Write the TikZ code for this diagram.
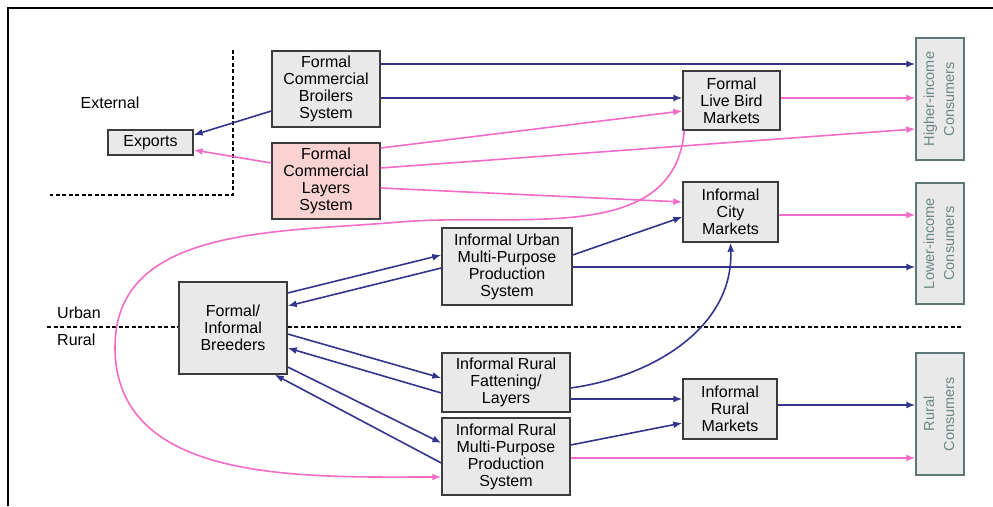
\documentclass[tikz,border=0pt]{standalone}
\usepackage{fontspec}
\setmainfont{Liberation Sans}
\usetikzlibrary{arrows.meta}

\definecolor{navy}{HTML}{34348C}
\definecolor{pinkln}{HTML}{F06CC6}
\definecolor{boxfill}{HTML}{E9E9E9}
\definecolor{boxedge}{HTML}{3C3C3C}
\definecolor{layerfill}{HTML}{FAD2D2}
\definecolor{consedge}{HTML}{5E7676}
\definecolor{constext}{HTML}{6E8686}

\begin{document}
\begin{tikzpicture}[x=1pt,y=1pt,
  box/.style={draw=boxedge, fill=boxfill, line width=1.4pt, align=center,
    inner sep=0pt, font=\fontsize{16}{17}\selectfont},
  cons/.style={draw=consedge, fill=boxfill, line width=1.4pt, inner sep=0pt,
    text=constext, font=\fontsize{14.5}{20}\selectfont,
    minimum width=48pt, minimum height=122pt},
  lbl/.style={inner sep=0pt, font=\fontsize{16}{17}\selectfont},
  nv/.style={draw=navy, line width=1.6pt, -{Latex[length=9pt,width=7pt]}},
  pk/.style={draw=pinkln, line width=1.6pt, -{Latex[length=9pt,width=7pt]}},
  sep/.style={dash pattern=on 4pt off 2.5pt, line width=1.3pt}]

\useasboundingbox (0,0) rectangle (993,506);

% outer frame (top and left edges)
\draw[line width=1.8pt] (8,0) -- (8,498) -- (993,498);

% External / domestic and urban / rural boundaries
\draw[sep] (233,456) -- (233,311) -- (50,311);
\draw[sep] (47,179) -- (963,179);

\node[lbl] (ext) at (110,403) {External};
\node[lbl, anchor=west] (urb) at (57,193) {Urban};
\node[lbl, anchor=west] (rur) at (57,166) {Rural};

% production systems and markets
\node[box, minimum width=85pt, minimum height=25pt] (exports) at (150.5,363.5) {Exports};
\node[box, minimum width=108pt, minimum height=76pt] (broilers) at (326,417)
  {Formal\\Commercial\\Broilers\\System};
\node[box, fill=layerfill, minimum width=108pt, minimum height=76pt] (layers) at (326,325)
  {Formal\\Commercial\\Layers\\System};
\node[box, minimum width=97pt, minimum height=59pt] (livebird) at (731.5,405.5)
  {Formal\\Live Bird\\Markets};
\node[box, minimum width=95pt, minimum height=60pt] (city) at (730.5,294)
  {Informal\\City\\Markets};
\node[box, minimum width=130pt, minimum height=77pt] (urbanmp) at (507,239.5)
  {Informal Urban\\Multi-Purpose\\Production\\System};
\node[box, minimum width=108pt, minimum height=92pt] (breeders) at (233,178)
  {Formal/\\Informal\\Breeders};
\node[box, minimum width=128pt, minimum height=59pt] (fatten) at (506,123.5)
  {Informal Rural\\Fattening/\\Layers};
\node[box, minimum width=128pt, minimum height=77pt] (ruralmp) at (506,49.5)
  {Informal Rural\\Multi-Purpose\\Production\\System};
\node[box, minimum width=94pt, minimum height=60pt] (ruralmk) at (730,97)
  {Informal\\Rural\\Markets};

% consumer groups
\node[cons] (higher) at (940,407)
  {\rotatebox{90}{\begin{tabular}{@{}c@{}}Higher-income\\Consumers\end{tabular}}};
\node[cons, minimum height=121pt] (lower) at (940,262.5)
  {\rotatebox{90}{\begin{tabular}{@{}c@{}}Lower-income\\Consumers\end{tabular}}};
\node[cons] (ruralc) at (940,92)
  {\rotatebox{90}{\begin{tabular}{@{}c@{}}Rural\\Consumers\end{tabular}}};

% broiler flows
\draw[nv] ([yshift=25pt]broilers.east) coordinate (b1) -- (higher.west |- b1);
\draw[nv] ([yshift=-9pt]broilers.east) -- ([yshift=2.5pt]livebird.west);
\draw[nv] ([yshift=-22pt]broilers.west) -- ([yshift=7.5pt]exports.east);

% layer flows
\draw[pk] ([yshift=18pt]layers.west) -- ([yshift=-7.5pt]exports.east);
\draw[pk] ([yshift=33pt]layers.east) -- ([yshift=-10.5pt]livebird.west);
\draw[pk] ([yshift=13pt]layers.east) -- ([yshift=-30pt]higher.west);
\draw[pk] ([yshift=-7pt]layers.east) -- ([yshift=10pt]city.west);

% market outlets
\draw[pk] ([yshift=2.5pt]livebird.east) coordinate (l1) -- (higher.west |- l1);
\draw[pk] ([yshift=-3pt]city.east) coordinate (c1) -- (lower.west |- c1);
\draw[nv] ([yshift=4pt]ruralmk.east) coordinate (r1) -- (ruralc.west |- r1);

% urban multi-purpose system
\draw[nv] ([yshift=11.5pt]urbanmp.east) -- ([yshift=-5pt]city.west);
\draw[nv] ([yshift=-0.5pt]urbanmp.east) coordinate (u1) -- (lower.west |- u1);

% breeder exchanges
\draw[nv] ([yshift=35pt]breeders.east) -- ([yshift=11.5pt]urbanmp.west);
\draw[nv] ([yshift=-1.5pt]urbanmp.west) -- ([yshift=22pt]breeders.east);
\draw[nv] ([yshift=-6pt]breeders.east) -- ([yshift=4.5pt]fatten.west);
\draw[nv] ([yshift=-10.5pt]fatten.west) -- ([yshift=-20pt]breeders.east);
\draw[nv] ([yshift=-39pt]breeders.east) -- ([yshift=13.5pt]ruralmp.west);
\draw[nv] ([yshift=-6.5pt]ruralmp.west) -- ([xshift=-13pt]breeders.south east);

% rural systems
\draw[nv] ([yshift=-5.5pt]fatten.east) to[out=8, in=-88] (city.south);
\draw[nv] ([yshift=-16.5pt]fatten.east) -- ([yshift=10pt]ruralmk.west);
\draw[nv] ([yshift=11.5pt]ruralmp.east) -- ([yshift=-14pt]ruralmk.west);
\draw[pk] ([yshift=-1.5pt]ruralmp.east) coordinate (m1) -- (ruralc.west |- m1);

% live birds carried back to rural multi-purpose producers
\coordinate (arcTop) at (400,284);
\coordinate (arcLeft) at (115,159);
\draw[pk] ([xshift=2pt]livebird.south west) to[out=-95, in=5] (arcTop)
  to[out=185, in=90] (arcLeft) to[out=-90, in=180] ([yshift=-20.5pt]ruralmp.west);

\end{tikzpicture}
\end{document}
